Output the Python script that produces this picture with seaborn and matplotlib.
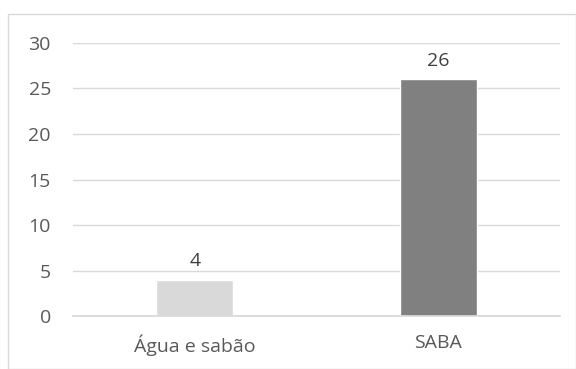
import matplotlib
matplotlib.use("Agg")
import matplotlib.pyplot as plt
import seaborn as sns
import pandas as pd
from matplotlib.patches import Rectangle

categories = ["Água e sabão", "SABA"]
values = [4, 26]
colors = ["#d9d9d9", "#808080"]
yticks = [0, 5, 10, 15, 20, 25, 30]

sns.set_theme(style="white")
plt.rcParams["font.family"] = ["Open Sans", "DejaVu Sans"]

df = pd.DataFrame({"cat": categories, "val": values})

fig = plt.figure(figsize=(5.76, 3.69), dpi=100)
ax = fig.add_axes([0.127, 0.1436, 0.845, 0.7399])
sns.barplot(data=df, x="cat", y="val", hue="cat", palette=colors, width=0.316,
            legend=False, ax=ax, saturation=1)

ax.set_ylim(0, 30)
ax.set_yticks(yticks)
ax.set_yticklabels([str(t) for t in yticks])
ax.set_xlabel("")
ax.set_ylabel("")
ax.grid(axis="y", color="#d9d9d9", linewidth=1)
ax.set_axisbelow(True)
for s in ["top", "right", "left"]:
    ax.spines[s].set_visible(False)
ax.spines["bottom"].set_color("#d9d9d9")
ax.tick_params(axis="both", length=0, colors="#595959", labelsize=14)
ax.tick_params(axis="y", pad=16)
ax.tick_params(axis="x", pad=13)

for p, v in zip(ax.patches, values):
    ax.annotate(str(v), (p.get_x() + p.get_width() / 2, p.get_height()),
                xytext=(0, 7), textcoords="offset points", ha="center", va="bottom",
                fontsize=14, color="#404040")

fig.patches.append(Rectangle((8 / 576, 0), 1 - 8 / 576 - 0.5 / 576, 1 - 14 / 369,
                             transform=fig.transFigure, fill=False,
                             edgecolor="#d9d9d9", linewidth=1))

fig.savefig("out.png", dpi=100)
